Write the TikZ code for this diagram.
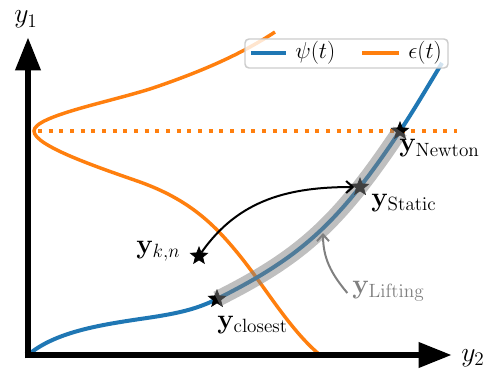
\documentclass[tikz,border=0pt]{standalone}
\usetikzlibrary{arrows.meta,shapes.geometric}
\definecolor{mblue}{HTML}{1F77B4}
\definecolor{morange}{HTML}{FF7F0E}
\tikzset{
  axisline/.style={line width=5pt,-{Triangle[length=25pt,width=18pt]}},
  bluecurve/.style={mblue,line width=3pt},
  orangecurve/.style={morange,line width=2.6pt},
  dottedline/.style={morange,line width=3pt,dash pattern=on 3pt off 5pt},
  starnode/.style={star,star points=5,star point ratio=2.3,minimum size=13.5pt,inner sep=0pt,fill=black,draw=black,line width=0.5pt},
  band/.style={gray,opacity=0.5,line width=12pt},
  lbl/.style={inner sep=0pt,anchor=base west,font=\fontsize{20}{24}\selectfont},
  axlbl/.style={inner sep=0pt,anchor=base west,font=\fontsize{22}{26}\selectfont},
  legtext/.style={inner sep=0pt,anchor=west,font=\fontsize{16}{19}\selectfont},
  arr/.style={line width=1.5pt,-{Straight Barb[length=5pt,width=9pt]}},
}
\begin{document}
\begin{tikzpicture}[x=0.75pt,y=0.75pt]
\useasboundingbox (0,0) rectangle (496,-374);
% orange density curve
\draw[orangecurve] (275,-32) .. controls (240,-55) and (200,-72) .. (153,-88)
  .. controls (110,-102) and (34,-116) .. (34,-131)
  .. controls (34,-146) and (100,-168) .. (140,-182)
  .. controls (190,-200) and (215,-225) .. (240,-256)
  .. controls (265,-287) and (290,-330) .. (320,-355);
% dotted line
\coordinate (dotA) at (38,-131);
\coordinate (dotB) at (457,-131);
\draw[dottedline] (dotA) -- (dotB);
% blue curve
\draw[bluecurve] (28,-355) .. controls (55,-332) and (100,-325) .. (140,-319)
  .. controls (175,-314) and (195,-310) .. (217,-299)
  .. controls (302,-256.5) and (339,-222.5) .. (400,-131)
  .. controls (414,-110) and (428,-86) .. (442,-63);
% axes
\coordinate (ytip) at (28,-37);
\coordinate (xtip) at (452,-355);
\coordinate (Ob) at (28,-358.3);
\coordinate (Ol) at (24.7,-355);
\draw[axisline] (Ob) -- (ytip);
\draw[axisline] (Ol) -- (xtip);
\node[axlbl] (y1) at (14,-23) {$y_1$};
\node[axlbl] (y2) at (461,-361) {$y_2$};
% stars
\node[starnode] (newton) at (400,-131) {};
\node[starnode] (static) at (360,-187) {};
\node[starnode] (kn) at (199,-256) {};
\node[starnode] (closest) at (217,-299) {};
% lifting band
\draw[band] (217,-299) .. controls (302,-256.5) and (339,-222.5) .. (400,-131);
% arrows
\draw[arr,black] (kn) to[out=55,in=180] (static);
\node[lbl,text=gray] (lifting) at (352,-293) {$\mathbf{y}_{\mathrm{Lifting}}$};
\coordinate (bandpt) at (323,-233);
\draw[arr,gray] ([xshift=-3.5pt]lifting.base west) to[out=130,in=-90] (bandpt);
% labels
\node[lbl] (lnewton) at (399,-152) {$\mathbf{y}_{\mathrm{Newton}}$};
\node[lbl] (lstatic) at (371,-206) {$\mathbf{y}_{\mathrm{Static}}$};
\node[lbl] (lkn) at (136,-253) {$\mathbf{y}_{k,n}$};
\node[lbl] (lclosest) at (217,-328) {$\mathbf{y}_{\mathrm{closest}}$};
% legend
\draw[fill=white,fill opacity=0.8,draw=black!20,line width=1.1pt,rounded corners=3pt] (245,-39) rectangle (448,-68);
\coordinate (lbA) at (251,-53);
\coordinate (lbB) at (286,-53);
\coordinate (loA) at (362,-53);
\coordinate (loB) at (399,-53);
\draw[bluecurve] (lbA) -- (lbB);
\draw[orangecurve] (loA) -- (loB);
\node[legtext] (legpsi) at (295,-53) {$\psi(t)$};
\node[legtext] (legeps) at (408,-53) {$\epsilon(t)$};
\end{tikzpicture}
\end{document}
